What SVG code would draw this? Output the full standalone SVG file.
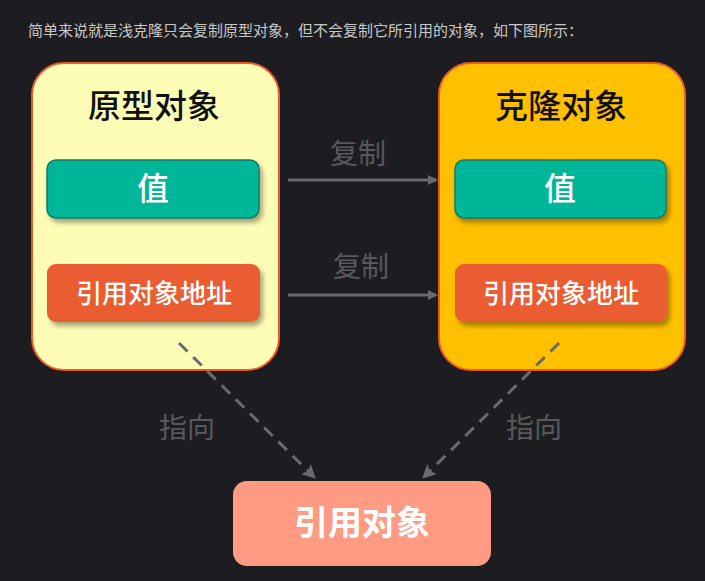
<svg xmlns="http://www.w3.org/2000/svg" width="705" height="581" viewBox="0 0 705 581">
<style>
.cjk{font-family:"Noto Sans CJK SC","Noto Sans",sans-serif;text-anchor:middle}
.title{font-size:33px;font-weight:500;fill:#111}
.val{font-size:32px;font-weight:500;fill:#fff}
.addr{font-size:26px;font-weight:500;fill:#fff}
.lbl{font-size:28px;fill:#58585b}
.conn{stroke:#6a6a6c;stroke-width:3;fill:none}
.dash{stroke:#6a6a6c;stroke-width:3;fill:none;stroke-dasharray:12 8}
</style>
<defs>
<marker id="ah" markerWidth="10" markerHeight="10" refX="8" refY="5" orient="auto" markerUnits="userSpaceOnUse">
<path d="M0,0 L10,5 L0,10 z" fill="#6a6a6c"/>
</marker>
<marker id="ah2" markerWidth="14" markerHeight="14" refX="10" refY="7" orient="auto" markerUnits="userSpaceOnUse">
<path d="M0,0 L14,7 L0,14 L3,7 z" fill="#6a6a6c"/>
</marker>
<filter id="sh" x="-10%" y="-20%" width="130%" height="150%">
<feDropShadow dx="3" dy="4" stdDeviation="2.5" flood-color="#000" flood-opacity="0.35"/>
</filter>
</defs>
<rect x="0" y="0" width="705" height="581" fill="#1d1d21"/>
<text x="28" y="36" style="font-family:'Noto Sans CJK SC',sans-serif;font-size:15px;fill:#c8c8c8">简单来说就是浅克隆只会复制原型对象，但不会复制它所引用的对象，如下图所示：</text>

<g id="proto">
<rect x="32" y="63" width="247" height="307" rx="32" fill="#fefdb6" stroke="#ea5a2a" stroke-width="2"/>
<text class="cjk title" x="154" y="118">原型对象</text>
</g>
<g id="proto-val">
<rect x="47" y="160" width="212" height="58" rx="9" fill="#00b699" stroke="#137a68" stroke-width="1.5" filter="url(#sh)"/>
<text class="cjk val" x="153" y="200">值</text>
</g>
<g id="proto-addr">
<rect x="47" y="264" width="213" height="58" rx="9" fill="#ea5c30" filter="url(#sh)"/>
<text class="cjk addr" x="154" y="303">引用对象地址</text>
</g>

<g id="clone">
<rect x="439" y="63" width="246" height="307" rx="32" fill="#ffc000" stroke="#ea5a2a" stroke-width="2"/>
<text class="cjk title" x="561" y="118">克隆对象</text>
</g>
<g id="clone-val">
<rect x="455" y="160" width="211" height="58" rx="9" fill="#00b699" stroke="#137a68" stroke-width="1.5" filter="url(#sh)"/>
<text class="cjk val" x="560" y="200">值</text>
</g>
<g id="clone-addr">
<rect x="455" y="264" width="212" height="58" rx="9" fill="#ea5c30" filter="url(#sh)"/>
<text class="cjk addr" x="561" y="303">引用对象地址</text>
</g>

<g id="ref">
<rect x="233" y="481" width="258" height="85" rx="14" fill="#ff9b82"/>
<text class="cjk" x="362" y="535" style="font-size:34px;font-weight:700;fill:#fff">引用对象</text>
</g>

<g id="connectors">
<line class="conn" x1="288" y1="180" x2="436" y2="180" marker-end="url(#ah)"/>
<line class="conn" x1="288" y1="295" x2="436" y2="295" marker-end="url(#ah)"/>
<line class="dash" x1="179" y1="343" x2="313" y2="476" marker-end="url(#ah2)"/>
<line class="dash" x1="559" y1="343" x2="425" y2="476" marker-end="url(#ah2)"/>
<text class="cjk lbl" x="358" y="164">复制</text>
<text class="cjk lbl" x="361" y="277">复制</text>
<text class="cjk lbl" x="187" y="438">指向</text>
<text class="cjk lbl" x="534" y="438">指向</text>
</g>
</svg>
